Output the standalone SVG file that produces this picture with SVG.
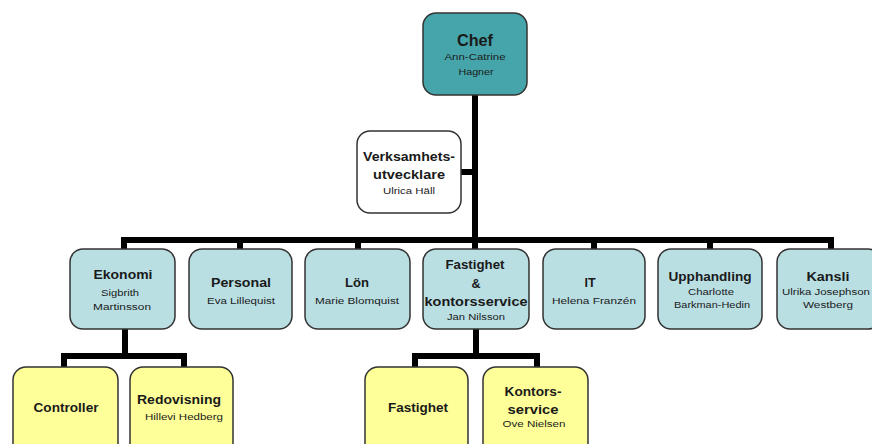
<svg xmlns="http://www.w3.org/2000/svg" width="872" height="444" viewBox="0 0 872 444">
<style>
.box{stroke:#333;stroke-width:1.5}
.chef{fill:#46A5AA}
.mid{fill:#B9DFE3}
.wh{fill:#fff}
.yel{fill:#FFFF99}
text{font-family:"Liberation Sans",Arial,sans-serif;fill:#1a1a1a;text-anchor:middle}
.t{font-size:12.5px;font-weight:bold}
.tc{font-size:16px;font-weight:bold}
.s{font-size:8.5px}
.ln{stroke:#000;stroke-width:6;fill:none}
</style>
<rect width="872" height="444" fill="#fff"/>
<g id="connectors">
<line class="ln" x1="475" y1="95" x2="475" y2="240"/>
<line class="ln" x1="461" y1="172" x2="475" y2="172"/>
<polyline class="ln" points="124,249 124,240 831,240 831,249"/>
<line class="ln" x1="240" y1="240" x2="240" y2="249"/>
<line class="ln" x1="358" y1="240" x2="358" y2="249"/>
<line class="ln" x1="475" y1="240" x2="475" y2="249"/>
<line class="ln" x1="594" y1="240" x2="594" y2="249"/>
<line class="ln" x1="710" y1="240" x2="710" y2="249"/>
<line class="ln" x1="125" y1="329" x2="125" y2="356"/>
<polyline class="ln" points="64,367 64,356 184,356 184,367"/>
<line class="ln" x1="476" y1="329" x2="476" y2="356"/>
<polyline class="ln" points="415,367 415,356 537,356 537,367"/>
</g>
<g id="chef">
<rect class="box chef" x="423" y="13" width="104" height="82" rx="13"/>
<text class="tc" x="475" y="46" textLength="36" lengthAdjust="spacingAndGlyphs">Chef</text>
<text class="s" x="475" y="60" textLength="61" lengthAdjust="spacingAndGlyphs">Ann-Catrine</text>
<text class="s" x="476" y="75" textLength="35" lengthAdjust="spacingAndGlyphs">Hagner</text>
</g>
<g id="verksamhet">
<rect class="box wh" x="357" y="131" width="104" height="82" rx="13"/>
<text class="t" x="409" y="161" textLength="92" lengthAdjust="spacingAndGlyphs">Verksamhets-</text>
<text class="t" x="409" y="179" textLength="72" lengthAdjust="spacingAndGlyphs">utvecklare</text>
<text class="s" x="409" y="194" textLength="52" lengthAdjust="spacingAndGlyphs">Ulrica  Häll</text>
</g>
<g id="ekonomi">
<rect class="box mid" x="70" y="249" width="105" height="80" rx="13"/>
<text class="t" x="123" y="279" textLength="59" lengthAdjust="spacingAndGlyphs">Ekonomi</text>
<text class="s" x="120" y="296" textLength="38" lengthAdjust="spacingAndGlyphs">Sigbrith</text>
<text class="s" x="122" y="310" textLength="58" lengthAdjust="spacingAndGlyphs">Martinsson</text>
</g>
<g id="personal">
<rect class="box mid" x="189" y="249" width="103" height="80" rx="13"/>
<text class="t" x="241" y="287" textLength="60" lengthAdjust="spacingAndGlyphs">Personal</text>
<text class="s" x="241" y="304" textLength="68" lengthAdjust="spacingAndGlyphs">Eva Lillequist</text>
</g>
<g id="lon">
<rect class="box mid" x="305" y="249" width="105" height="80" rx="13"/>
<text class="t" x="357" y="287" textLength="24" lengthAdjust="spacingAndGlyphs">Lön</text>
<text class="s" x="357" y="304" textLength="84" lengthAdjust="spacingAndGlyphs">Marie Blomquist</text>
</g>
<g id="fastighet">
<rect class="box mid" x="423" y="249" width="106" height="80" rx="13"/>
<text class="t" x="475" y="269" textLength="59" lengthAdjust="spacingAndGlyphs">Fastighet</text>
<text class="t" x="476" y="288">&amp;</text>
<text class="t" x="476" y="306" textLength="103" lengthAdjust="spacingAndGlyphs">kontorsservice</text>
<text class="s" x="476" y="320" textLength="58" lengthAdjust="spacingAndGlyphs">Jan Nilsson</text>
</g>
<g id="it">
<rect class="box mid" x="543" y="249" width="102" height="80" rx="13"/>
<text class="t" x="590" y="287">IT</text>
<text class="s" x="594" y="304" textLength="84" lengthAdjust="spacingAndGlyphs">Helena  Franzén</text>
</g>
<g id="upphandling">
<rect class="box mid" x="658" y="249" width="104" height="80" rx="13"/>
<text class="t" x="710" y="281" textLength="83" lengthAdjust="spacingAndGlyphs">Upphandling</text>
<text class="s" x="711" y="295" textLength="46" lengthAdjust="spacingAndGlyphs">Charlotte</text>
<text class="s" x="712" y="308" textLength="76" lengthAdjust="spacingAndGlyphs">Barkman-Hedin</text>
</g>
<g id="kansli">
<rect class="box mid" x="777" y="249" width="104" height="80" rx="13"/>
<text class="t" x="828" y="281" textLength="43" lengthAdjust="spacingAndGlyphs">Kansli</text>
<text class="s" x="826" y="295" textLength="88" lengthAdjust="spacingAndGlyphs">Ulrika  Josephson</text>
<text class="s" x="828" y="308" textLength="50" lengthAdjust="spacingAndGlyphs">Westberg</text>
</g>
<g id="controller">
<rect class="box yel" x="13" y="367" width="105" height="90" rx="13"/>
<text class="t" x="66" y="412" textLength="65" lengthAdjust="spacingAndGlyphs">Controller</text>
</g>
<g id="redovisning">
<rect class="box yel" x="130" y="367" width="103" height="90" rx="13"/>
<text class="t" x="179" y="404" textLength="84" lengthAdjust="spacingAndGlyphs">Redovisning</text>
<text class="s" x="184" y="420" textLength="78" lengthAdjust="spacingAndGlyphs">Hillevi  Hedberg</text>
</g>
<g id="fastighet2">
<rect class="box yel" x="365" y="367" width="103" height="90" rx="13"/>
<text class="t" x="418" y="412" textLength="60" lengthAdjust="spacingAndGlyphs">Fastighet</text>
</g>
<g id="kontorsservice">
<rect class="box yel" x="483" y="367" width="105" height="90" rx="13"/>
<text class="t" x="533" y="396" textLength="57" lengthAdjust="spacingAndGlyphs">Kontors-</text>
<text class="t" x="533" y="414" textLength="51" lengthAdjust="spacingAndGlyphs">service</text>
<text class="s" x="534" y="427" textLength="63" lengthAdjust="spacingAndGlyphs">Ove Nielsen</text>
</g>
</svg>
